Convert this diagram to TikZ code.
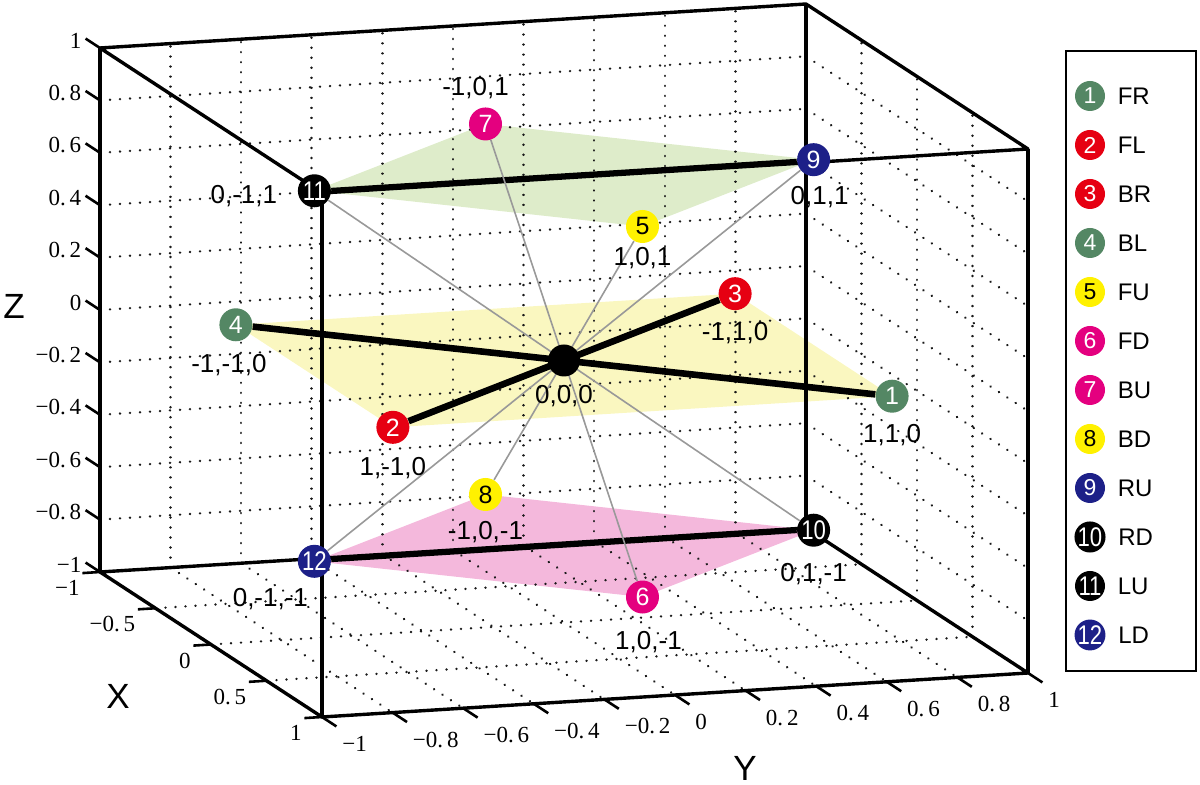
\documentclass[tikz,border=0pt]{standalone}
\usepackage{fontspec}
\setmainfont{Liberation Sans}
\newfontfamily\tickfont{Liberation Serif}
\usetikzlibrary{positioning}

\definecolor{ptgreen}{RGB}{84,135,100}
\definecolor{ptred}{RGB}{230,0,18}
\definecolor{ptyellow}{RGB}{255,241,0}
\definecolor{ptmagenta}{RGB}{228,0,127}
\definecolor{ptnavy}{RGB}{29,32,136}
\definecolor{planegreen}{RGB}{222,236,202}
\definecolor{planeyellow}{RGB}{250,247,192}
\definecolor{planepink}{RGB}{244,184,220}

\pgfdeclarelayer{planes}
\pgfdeclarelayer{wires}
\pgfsetlayers{planes,wires,main}

\newcommand{\twodig}[1]{\scalebox{0.82}[1]{\fontsize{13.5}{13.5}\selectfont#1}}

\tikzset{
  pt/.style={circle, inner sep=0pt, minimum size=16.5pt, text=white, font=\fontsize{12.5}{12.5}\selectfont},
  legpt/.style={pt, minimum size=15pt, font=\fontsize{11.5}{11.5}\selectfont},
  lbl/.style={inner sep=0pt, font=\fontsize{13}{13}\selectfont},
  legtext/.style={inner sep=0pt, anchor=west, font=\fontsize{12}{12}\selectfont},
  axtitle/.style={inner sep=0pt, font=\fontsize{17.5}{18}\selectfont},
  ticklbl/.style={inner sep=0pt, font=\tickfont\fontsize{11.5}{12}\selectfont},
  gridline/.style={line width=1.3pt, dash pattern=on 0.01pt off 5pt, line cap=round, black!90},
  boxedge/.style={line width=1.7pt, line join=round},
  tickmark/.style={line width=1.3pt},
  spoke/.style={line width=0.8pt, black!40},
  spine/.style={line width=3.3pt},
  dataline/.style={line width=1.9pt}
}

\begin{document}
\begin{tikzpicture}[x={(55.5pt,-36.25pt)}, y={(176.5pt,11pt)}, z={(0pt,131pt)}]
\def\a{0.7071}
\begin{scope}[shift={(-282pt,180.25pt)}, x=0.5pt, y=-0.5pt]
\useasboundingbox (0,0) rectangle (1200,785);
\end{scope}

\node[pt, fill=black, minimum size=16pt] (n0) at (0,0,0) {};
\node[pt, fill=ptgreen] (n1) at (\a,\a,0) {1};
\node[pt, fill=ptred] (n2) at (\a,-\a,0) {2};
\node[pt, fill=ptred] (n3) at (-\a,\a,0) {3};
\node[pt, fill=ptgreen] (n4) at (-\a,-\a,0) {4};
\node[pt, fill=ptyellow, text=black] (n5) at (\a,0,\a) {5};
\node[pt, fill=ptmagenta] (n6) at (\a,0,-\a) {6};
\node[pt, fill=ptmagenta] (n7) at (-\a,0,\a) {7};
\node[pt, fill=ptyellow, text=black] (n8) at (-\a,0,-\a) {8};
\node[pt, fill=ptnavy] (n9) at (0,\a,\a) {9};
\node[pt, fill=black] (n10) at (0,\a,-\a) {\twodig{10}};
\node[pt, fill=black] (n11) at (0,-\a,\a) {\twodig{11}};
\node[pt, fill=ptnavy] (n12) at (0,-\a,-\a) {\twodig{12}};

\node[lbl, below=3.9pt of n0] (l0) {0,0,0};
\node[lbl, below=5.6pt of n1] (l1) {1,1,0};
\node[lbl, below=6.6pt of n2] (l2) {1,-1,0};
\node[lbl, below=5.6pt of n3] (l3) {-1,1,0};
\node[lbl, below=6.1pt of n4, xshift=-3.5pt] (l4) {-1,-1,0};
\node[lbl, below=1.6pt of n5] (l5) {1,0,1};
\node[lbl, below=8.6pt of n6, xshift=3pt] (l6) {1,0,-1};
\node[lbl, above=3.8pt of n7, xshift=-5pt] (l7) {-1,0,1};
\node[lbl, below=4.6pt of n8] (l8) {-1,0,-1};
\node[lbl, below=4.6pt of n9, xshift=3pt] (l9) {0,1,1};
\node[lbl, below=8.1pt of n10] (l10) {0,1,-1};
\node[lbl, left=10pt of n11, yshift=-2.5pt] (l11) {0,-1,1};
\node[lbl, below=5.1pt of n12, xshift=-22pt] (l12) {0,-1,-1};

\begin{pgfonlayer}{planes}
\fill[planegreen] (n11.center) -- (n7.center) -- (n9.center) -- (n5.center) -- cycle;
\fill[planeyellow] (n4.center) -- (n3.center) -- (n1.center) -- (n2.center) -- cycle;
\fill[planepink] (n12.center) -- (n8.center) -- (n10.center) -- (n6.center) -- cycle;
\foreach \v in {-0.8,-0.6,-0.4,-0.2,0,0.2,0.4,0.6,0.8} {
  \draw[gridline] (-1,\v,-1) -- (-1,\v,1);
  \draw[gridline] (-1,-1,\v) -- (-1,1,\v);
  \draw[gridline] (-1,1,\v) -- (1,1,\v);
  \draw[gridline] (-1,\v,-1) -- (1,\v,-1);
}
\foreach \v in {-0.5,0,0.5} {
  \draw[gridline] (\v,1,-1) -- (\v,1,1);
  \draw[gridline] (\v,-1,-1) -- (\v,1,-1);
}
\end{pgfonlayer}

\begin{pgfonlayer}{wires}
\draw[boxedge] (-1,-1,-1) -- (1,-1,-1) -- (1,1,-1) -- (-1,1,-1) -- cycle;
\draw[boxedge] (-1,-1,1) -- (1,-1,1) -- (1,1,1) -- (-1,1,1) -- cycle;
\draw[boxedge] (-1,-1,-1) -- (-1,-1,1);
\draw[boxedge] (-1,1,-1) -- (-1,1,1);
\draw[boxedge] (1,-1,-1) -- (1,-1,1);
\draw[boxedge] (1,1,-1) -- (1,1,1);
\foreach \v/\t [count=\i] in {1/1, 0.8/0.\,8, 0.6/0.\,6, 0.4/0.\,4, 0.2/0.\,2, 0/0,
    -0.2/−0.\,2, -0.4/−0.\,4, -0.6/−0.\,6, -0.8/−0.\,8, -1/−1}
  \draw[tickmark] (-1,-1,\v) -- (-1.13,-1,\v)
    node[ticklbl, anchor=east, xshift=-1.5pt, yshift=-1pt] (zt\i) {\t};
\foreach \v/\t [count=\i] in {-1/−1, -0.5/−0.\,5, 0/0, 0.5/0.\,5, 1/1} {
  \draw[tickmark] (\v,-1,-1) -- (\v,-1.05,-1);
  \node[ticklbl, anchor=east, xshift=-10pt, yshift=-8pt] (xt\i) at (\v,-1,-1) {\t};
}
\foreach \v/\t [count=\i] in {-1/−1, -0.8/−0.\,8, -0.6/−0.\,6, -0.4/−0.\,4, -0.2/−0.\,2, 0/0,
    0.2/0.\,2, 0.4/0.\,4, 0.6/0.\,6, 0.8/0.\,8, 1/1} {
  \draw[tickmark] (1,\v,-1) -- (1.13,\v,-1);
  \node[ticklbl, anchor=west, xshift=10pt, yshift=-13.5pt] (yt\i) at (1,\v,-1) {\t};
}
\draw[dataline] (n11) -- (n9);
\draw[dataline] (n12) -- (n10);
\foreach \p in {n5,n6,n7,n8,n9,n10,n11,n12}
  \draw[spoke] (n0.center) -- (\p);
\draw[spine] (n4) -- (n0.center) -- (n1);
\draw[spine] (n2) -- (n0.center) -- (n3);
\end{pgfonlayer}

\begin{scope}[shift={(-282pt,180.25pt)}, x=0.5pt, y=-0.5pt]
\node[axtitle] (zlab) at (14,306) {Z};
\node[axtitle] (xlab) at (118,696) {X};
\node[axtitle] (ylab) at (745,768) {Y};
\node[draw, line width=1.2pt, minimum width=65pt, minimum height=310pt, inner sep=0pt] (legend) at (1131,361) {};
\foreach \n/\lab/\col/\tc [count=\i] in {1/FR/ptgreen/white, 2/FL/ptred/white, 3/BR/ptred/white,
    4/BL/ptgreen/white, 5/FU/ptyellow/black, 6/FD/ptmagenta/white, 7/BU/ptmagenta/white,
    8/BD/ptyellow/black, 9/RU/ptnavy/white, \twodig{10}/RD/black/white,
    \twodig{11}/LU/black/white, \twodig{12}/LD/ptnavy/white} {
  \node[legpt, fill=\col, text=\tc] (k\i) at (1090,{96+49*(\i-1)}) {\n};
  \node[legtext, right=6pt of k\i] (kt\i) {\lab};
}
\end{scope}
\end{tikzpicture}
\end{document}
